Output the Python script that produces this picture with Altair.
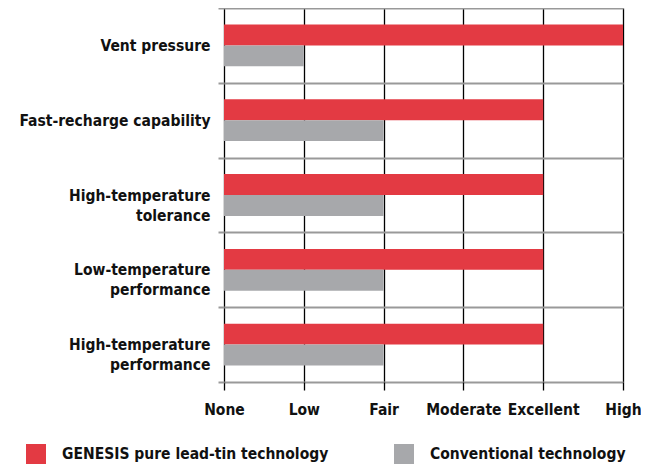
import altair as alt
import pandas as pd

categories = ["Vent pressure", "Fast-recharge capability", "High-temperature tolerance",
              "Low-temperature performance", "High-temperature performance"]
genesis = [5, 4, 4, 4, 4]
conventional = [1, 2, 2, 2, 2]
series = ["GENESIS pure lead-tin technology", "Conventional technology"]
levels = ["None", "Low", "Fair", "Moderate", "Excellent", "High"]
colors = ["#E33A43", "#A7A8AB"]

rows = []
for c, g, v in zip(categories, genesis, conventional):
    rows.append({"category": c, "series": series[0], "value": g})
    rows.append({"category": c, "series": series[1], "value": v})
df = pd.DataFrame(rows)

FONT = "Liberation Sans Narrow, DejaVu Sans Condensed, Roboto Condensed, Arial Narrow, sans-serif"
FS = 15.5

label_expr = "[" + ",".join("'%s'" % l for l in levels) + "][datum.value]"
ylabel_expr = ("indexof(datum.label,'temperature ')>=0 ? "
               "split(replace(datum.label,'temperature ','temperature|'),'|') : datum.label")

chart = alt.Chart(df).mark_bar().encode(
    y=alt.Y("category:N", sort=categories,
            scale=alt.Scale(paddingInner=0, paddingOuter=0),
            axis=alt.Axis(title=None, domain=False, ticks=True, tickSize=6, tickColor="#999999",
                          tickWidth=2, grid=True, gridColor="#999999", gridWidth=2,
                          tickBand="extent", labelExpr=ylabel_expr, labelPadding=8,
                          labelFont=FONT, labelFontSize=FS, labelFontWeight="bold",
                          labelColor="#111111", labelLineHeight=20, labelLimit=300)),
    yOffset=alt.YOffset("series:N", sort=series,
                        scale=alt.Scale(paddingInner=0, paddingOuter=0.79)),
    x=alt.X("value:Q", scale=alt.Scale(domain=[0, 5], nice=False),
            axis=alt.Axis(title=None, values=[0, 1, 2, 3, 4, 5], labelExpr=label_expr,
                          grid=True, gridColor="#000000", gridWidth=1.3,
                          domain=False,
                          ticks=True, tickColor="#000000", tickWidth=1.3, tickSize=8,
                          labelPadding=12, labelFont=FONT, labelFontSize=FS,
                          labelFontWeight="bold", labelColor="#111111", labelFlush=False)),
    color=alt.Color("series:N", sort=series,
                    scale=alt.Scale(domain=series, range=colors),
                    legend=alt.Legend(title=None, orient="none", legendX=-198, legendY=436,
                                      direction="horizontal", symbolType="square",
                                      symbolSize=400, symbolStrokeWidth=0, symbolOpacity=1,
                                      labelFont=FONT, labelFontSize=FS, labelFontWeight="bold",
                                      labelColor="#111111", labelOffset=16, columnPadding=65,
                                      labelLimit=400, padding=0)),
).properties(
    width=399, height=374,
    autosize=alt.AutoSizeParams(type="none"),
    padding={"left": 216, "top": 0, "right": 18, "bottom": 82},
).configure_view(stroke=None)

chart.save("out.html", embed_options={"renderer": "svg", "actions": False})
